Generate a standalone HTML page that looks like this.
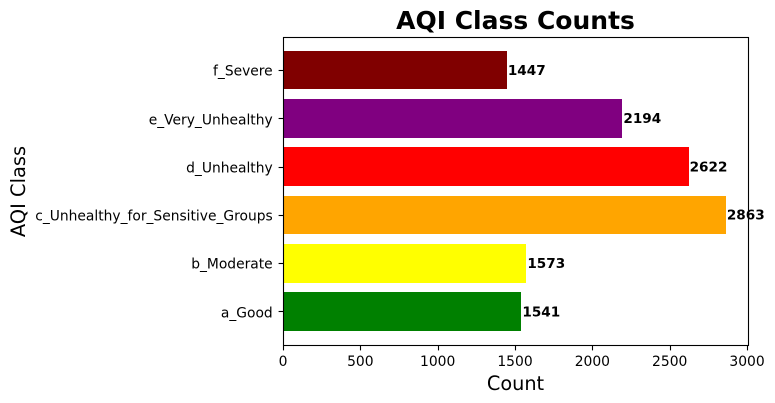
<!DOCTYPE html>
<html>
<head>
<meta charset="utf-8">
<style>
html,body{margin:0;padding:0;background:#fff;width:775px;height:403px;overflow:hidden}
svg{display:block}
text{font-family:"DejaVu Sans",sans-serif;fill:#000}
</style>
</head>
<body>
<svg id="chart" width="775" height="403" viewBox="0 0 775 403" xmlns="http://www.w3.org/2000/svg"></svg>
<script>
const categories = ["a_Good","b_Moderate","c_Unhealthy_for_Sensitive_Groups","d_Unhealthy","e_Very_Unhealthy","f_Severe"];
const counts = [1541,1573,2863,2622,2194,1447];
const barColors = ["#008000","#ffff00","#ffa500","#ff0000","#800080","#800000"];
const xTicks = [0,500,1000,1500,2000,2500,3000];

const svg = document.getElementById('chart');
const NS = 'http://www.w3.org/2000/svg';
const plot = {left:283,right:748,top:36.8,bottom:344.8};
const barHeight = 0.8;
const tickFont = '13.89px';
const categoryFont = '13.83px';
const valueFont = '13.6px';
const xMax = Math.max(...counts) * 1.05;
const yMin = -0.4 - 0.05 * (categories.length - 1 + barHeight);
const yMax = categories.length - 1 + 0.4 + 0.05 * (categories.length - 1 + barHeight);
function xScale(v){ return plot.left + (v / xMax) * (plot.right - plot.left); }
function yScale(v){ return plot.bottom - ((v - yMin) / (yMax - yMin)) * (plot.bottom - plot.top); }
function snap(v){ return Math.round(v); }
function make(tag, attrs, text){
  const el = document.createElementNS(NS, tag);
  for (const k in attrs) el.setAttribute(k, attrs[k]);
  if (text !== undefined) el.textContent = text;
  svg.appendChild(el);
  return el;
}

categories.forEach((c, i) => {
  const top = snap(yScale(i + barHeight / 2));
  const bottom = snap(yScale(i - barHeight / 2));
  const bar = make('rect', {x:plot.left, y:top, width:snap(xScale(counts[i])) - plot.left, height:bottom - top, fill:barColors[i], 'shape-rendering':'crispEdges'});
  
  
});

categories.forEach((c, i) => {
  const y = yScale(i);
  const tickY = snap(y) + 0.5;
  const tick = make('line', {x1:plot.left + 0.5 - 4.9, x2:plot.left + 0.5, y1:tickY, y2:tickY, stroke:'#000', 'stroke-width':1.1});
  
  
  const label = make('text', {x:plot.left - 10.3, y:snap(y + 6.2) - 0.5, 'text-anchor':'end', 'font-size':categoryFont}, c);
  
  
  const value = make('text', {x:xScale(counts[i]) + 1, y:y + 4.8, 'font-size':valueFont, 'font-weight':'bold'}, String(counts[i]));
  
  
});

xTicks.forEach(t => {
  const x = xScale(t);
  const tickX = snap(x) + 0.5;
  const tick = make('line', {x1:tickX, x2:tickX, y1:plot.bottom + 0.7, y2:plot.bottom + 5.6, stroke:'#000', 'stroke-width':1.1});
  
  
  const label = make('text', {x:x, y:366, 'text-anchor':'middle', 'font-size':tickFont}, String(t));
  
  
});

const frame = make('rect', {x:283.5, y:37.5, width:465, height:308, fill:'none', stroke:'#000', 'stroke-width':1.1});



const title = make('text', {x:(plot.left + plot.right) / 2, y:29, 'text-anchor':'middle', 'font-size':'25px', 'font-weight':'bold'}, 'AQI Class Counts');



const xTitle = make('text', {x:(plot.left + plot.right) / 2, y:390, 'text-anchor':'middle', 'font-size':'19.3px'}, 'Count');



const yTitle = make('text', {x:0, y:0, transform:'translate(25,191.5) rotate(-90)', 'text-anchor':'middle', 'font-size':'19.44px'}, 'AQI Class');


</script>
</body>
</html>
